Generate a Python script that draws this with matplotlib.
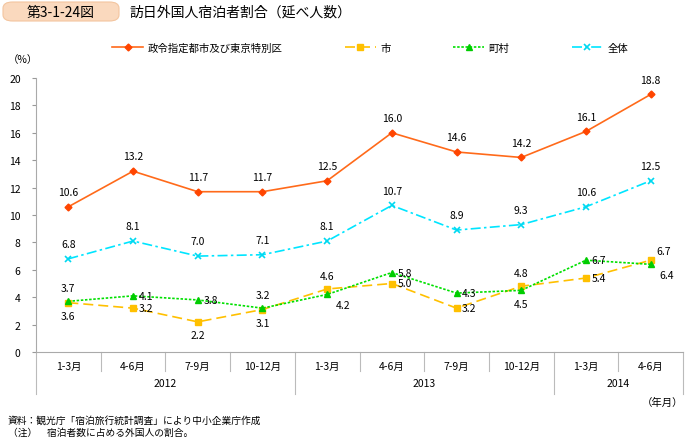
import matplotlib
matplotlib.use("Agg")
import matplotlib.pyplot as plt
from matplotlib.patches import FancyBboxPatch

plt.rcParams['font.family'] = ['Noto Sans CJK JP', 'DejaVu Sans']

# data
quarters = ["1-3月", "4-6月", "7-9月", "10-12月", "1-3月", "4-6月", "7-9月", "10-12月", "1-3月", "4-6月"]
years = ["2012", "2013", "2014"]
year_spans = [(0, 4), (4, 8), (8, 10)]

seirei = [10.6, 13.2, 11.7, 11.7, 12.5, 16.0, 14.6, 14.2, 16.1, 18.8]
shi = [3.6, 3.2, 2.2, 3.1, 4.6, 5.0, 3.2, 4.8, 5.4, 6.7]
choson = [3.7, 4.1, 3.8, 3.2, 4.2, 5.8, 4.3, 4.5, 6.7, 6.4]
zentai = [6.8, 8.1, 7.0, 7.1, 8.1, 10.7, 8.9, 9.3, 10.6, 12.5]

# label placement per point: a=above, b=below, r=right, ra=right-above, rb=right-below
shi_pos = ["b", "r", "b", "b", "a", "r", "r", "a", "r", "ra"]
choson_pos = ["a", "r", "r", "a", "rb", "r", "r", "b", "r", "rb"]

fig = plt.figure(figsize=(6.85, 4.39), dpi=100)
ax = fig.add_axes([36/685, 86/439, 647/685, 274/439])

x = [i + 0.5 for i in range(len(quarters))]

ax.plot(x, seirei, color="#FF6A1A", lw=1.2, marker="D", ms=3.5, mfc="#FF4500", mec="#FF4500",
        label="政令指定都市及び東京特別区")
ax.plot(x, shi, color="#FFC000", lw=1.2, ls=(0, (6, 3)), marker="s", ms=5, mfc="#FFC000", mec="#FFC000",
        label="市")
ax.plot(x, choson, color="#00E000", lw=1.2, ls=(0, (1.5, 1)), marker="^", ms=5, mfc="#00CC00", mec="#00CC00",
        label="町村")
ax.plot(x, zentai, color="#00E5FF", lw=1.2, ls=(0, (6, 2, 1.5, 2)), marker="x", ms=5, mew=1.2, mec="#00D8F0",
        label="全体")

fs = 7.5
for xi, v in zip(x, seirei):
    ax.annotate(f"{v:.1f}", (xi, v), xytext=(0, 7), textcoords="offset points", ha="center", va="bottom", fontsize=fs)
for xi, v in zip(x, zentai):
    ax.annotate(f"{v:.1f}", (xi, v), xytext=(0, 7), textcoords="offset points", ha="center", va="bottom", fontsize=fs)

offs = {"a": (0, 6, "center", "bottom"), "b": (0, -6, "center", "top"),
        "r": (4, 0, "left", "center"), "ra": (4, 3, "left", "bottom"),
        "rb": (6, -4, "left", "top")}
for vals, pos in ((shi, shi_pos), (choson, choson_pos)):
    for xi, v, p in zip(x, vals, pos):
        dx, dy, ha, va = offs[p]
        ax.annotate(f"{v:.1f}", (xi, v), xytext=(dx, dy), textcoords="offset points", ha=ha, va=va, fontsize=fs)

ax.set_xlim(0, 10)
ax.set_ylim(0, 20)
ax.set_yticks(range(0, 21, 2))
ax.tick_params(axis="y", labelsize=fs, length=3, color="#999999", pad=8)
ax.set_xticks([])
for s in ("top", "right"):
    ax.spines[s].set_visible(False)
ax.spines["left"].set_color("#AAAAAA")
ax.spines["bottom"].set_color("#AAAAAA")

# category axis below
tr = ax.get_xaxis_transform()
for i in range(11):
    is_year = i in (0, 4, 8, 10)
    ax.plot([i, i], [0, -0.153 if is_year else -0.069], transform=tr, color="#BBBBBB", lw=0.8, clip_on=False)
for xi, q in zip(x, quarters):
    ax.text(xi, -0.05, q, transform=tr, ha="center", va="center", fontsize=fs)
for (a, b), yr in zip(year_spans, years):
    ax.text((a + b) / 2, -0.113, yr, transform=tr, ha="center", va="center", fontsize=fs)
ax.text(10, -0.165, "（年月）", transform=tr, ha="right", va="top", fontsize=fs)
ax.text(-0.02, 1.07, "（%）", transform=ax.transAxes, ha="center", va="center", fontsize=fs)

ax.legend(loc="center", bbox_to_anchor=(370/685, 1 - 49/439), bbox_transform=fig.transFigure, ncol=4,
          frameon=False, fontsize=fs, handlelength=3, columnspacing=6, handletextpad=0.4)

# title
box = FancyBboxPatch((3/685, 1 - 22/439), 116/685, 19/439, transform=fig.transFigure,
                     boxstyle="round,pad=0,rounding_size=0.014", fc="#FAD9BE", ec="#F3C59F", lw=0.8)
fig.patches.append(box)
fig.text(61/685, 1 - 12.5/439, "第3-1-24図", ha="center", va="center", fontsize=10)
fig.text(130/685, 1 - 12.5/439, "訪日外国人宿泊者割合（延べ人数）", ha="left", va="center", fontsize=10)

fig.text(8/685, 1 - 421/439, "資料：観光庁「宿泊旅行統計調査」により中小企業庁作成", ha="left", va="center", fontsize=7)
fig.text(8/685, 1 - 433/439, "（注）　宿泊者数に占める外国人の割合。", ha="left", va="center", fontsize=7)

fig.savefig("out.png", dpi=100)
